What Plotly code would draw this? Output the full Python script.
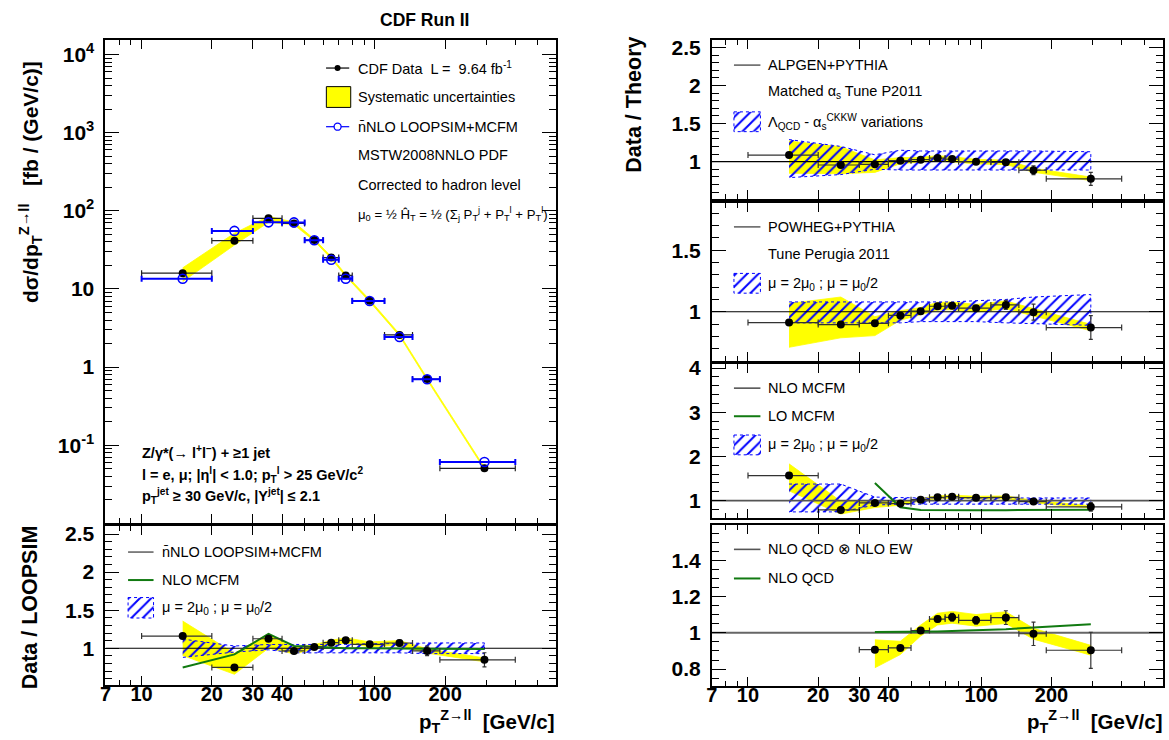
import math
import plotly.graph_objects as go

W, H = 1169, 740
FONT = "Liberation Sans, Arial, Helvetica, sans-serif"

# ---------------- data ----------------
bin_lo = [10, 20, 30, 40, 50, 60, 70, 80, 110, 145, 190]
bin_hi = [20, 30, 40, 50, 60, 70, 80, 110, 145, 190, 400]
pt_center = [15, 25, 35, 45, 55, 65, 75, 95, 127.5, 167.5, 295]

# main panel cross sections [fb/(GeV/c)]
data_xs = [15.9, 41.4, 80.0, 69.0, 42.2, 25.2, 14.9, 7.08, 2.58, 0.703, 0.0506]
loopsim_xs = [13.5, 55.3, 71.1, 71.0, 42.0, 23.6, 13.5, 7.0, 2.43, 0.70, 0.061]

# relative systematic and statistical uncertainties
sys_up = [0.17, 0.25, 0.06, 0.04, 0.03, 0.03, 0.03, 0.03, 0.03, 0.03, 0.03]
sys_dn = [0.22, 0.12, 0.11, 0.04, 0.03, 0.03, 0.03, 0.03, 0.03, 0.03, 0.03]
stat_rel = [0.005, 0.005, 0.005, 0.005, 0.008, 0.015, 0.02, 0.02, 0.035, 0.065, 0.11]

# Data / LOOPSIM
r_loopsim = [1.16, 0.748, 1.125, 0.965, 1.017, 1.073, 1.104, 1.052, 1.069, 0.965, 0.848]
nlo_over_loopsim = [0.748, 0.92, 1.19, 1.03, 1.02, 1.01, 1.0, 1.0, 1.0, 0.995, 0.99]
scale_lo_ll = [0.88, 0.95, 0.98, 0.94, 0.94, 0.94, 0.94, 0.94, 0.94, 0.93, 0.93]
scale_hi_ll = [1.12, 1.03, 1.05, 1.05, 1.05, 1.05, 1.05, 1.06, 1.06, 1.07, 1.07]

# Data / ALPGEN
r_alpgen = [1.086, 0.956, 0.965, 1.013, 1.026, 1.047, 1.034, 1.0, 0.991, 0.887, 0.774]
var_lo_alp = [0.79, 0.83, 0.90, 0.89, 0.89, 0.89, 0.89, 0.89, 0.89, 0.89, 0.89]
var_hi_alp = [1.29, 1.20, 1.09, 1.15, 1.14, 1.14, 1.14, 1.14, 1.14, 1.14, 1.13]

# Data / POWHEG
r_powheg = [0.912, 0.896, 0.906, 0.97, 1.005, 1.045, 1.048, 1.029, 1.056, 0.997, 0.872]
scale_lo_pow = [0.91, 0.91, 0.91, 0.91, 0.92, 0.92, 0.92, 0.92, 0.91, 0.90, 0.89]
scale_hi_pow = [1.08, 1.08, 1.08, 1.08, 1.08, 1.08, 1.08, 1.09, 1.10, 1.12, 1.14]

# Data / NLO MCFM
r_mcfm = [1.566, 0.79, 0.948, 0.933, 1.022, 1.074, 1.09, 1.067, 1.074, 0.978, 0.859]
scale_lo_mcfm = [0.745, 0.745, 0.90, 0.92, 0.92, 0.92, 0.92, 0.92, 0.92, 0.92, 0.92]
scale_hi_mcfm = [1.375, 1.375, 1.08, 1.06, 1.06, 1.06, 1.06, 1.06, 1.06, 1.06, 1.06]
lo_mcfm_curve = [None, None, 1.40, 0.85, 0.79, 0.785, 0.78, 0.78, 0.785, 0.79, 0.795]

# Data / NLO QCD x NLO EW
r_ew = [None, None, 0.907, 0.917, 1.013, 1.076, 1.086, 1.069, 1.084, 0.995, 0.904]
nlo_qcd_curve = [None, None, 1.005, 1.005, 1.006, 1.008, 1.01, 1.013, 1.02, 1.03, 1.048]

# axis ticks
x_tick_vals = [7, 10, 20, 30, 40, 100, 200]
x_tick_text = ["7", "10", "20", "30", "40", "100", "200"]
x_minor_vals = [8, 9, 50, 60, 70, 80, 90, 300, 400, 500]
X_MIN, X_MAX = 7, 600

# ---------------- layout helpers ----------------
XR = [math.log10(X_MIN), math.log10(X_MAX)]
PX_PER_DEC = 234.45
XW = PX_PER_DEC * (XR[1] - XR[0])


def xdom(left):
    return [left / W, (left + XW) / W]


def ydom(top, bottom):
    return [1 - bottom / H, 1 - top / H]


YELLOW = "#ffff00"
BLUE = "#0000ff"
GREEN = "#117a11"

fig = go.Figure()


def xcfg(dom, anchor, labels):
    return dict(type="log", range=XR, domain=dom, anchor=anchor, showline=True,
                linecolor="black", linewidth=2, mirror="ticks", ticks="inside",
                ticklen=9, tickwidth=1, tickcolor="black",
                tickmode="array", tickvals=x_tick_vals, ticktext=x_tick_text,
                showticklabels=labels, ticklabelstandoff=-10,
                tickfont=dict(family=FONT, size=20, color="black", weight="bold"),
                showgrid=False, zeroline=False,
                minor=dict(tickmode="array", tickvals=x_minor_vals, ticks="inside",
                           ticklen=5, tickcolor="black", showgrid=False))


def ycfg(dom, anchor, rng, tv, tt, mv, typ="linear"):
    return dict(type=typ, range=rng, domain=dom, anchor=anchor, showline=True,
                linecolor="black", linewidth=2, mirror="ticks", ticks="inside",
                ticklen=14, tickwidth=1, tickcolor="black",
                tickmode="array", tickvals=tv, ticktext=tt, ticklabelstandoff=5,
                tickfont=dict(family=FONT, size=21, color="black", weight="bold"),
                showgrid=False, zeroline=False,
                minor=dict(tickmode="array", tickvals=mv, ticks="inside",
                           ticklen=7, tickcolor="black", showgrid=False))


def frange(a, b, s):
    out = []
    v = a
    while v <= b + 1e-9:
        out.append(round(v, 4))
        v += s
    return out


LEFT_X = 100
RIGHT_X = 709.5

main_minor = [m * 10 ** k for k in range(-2, 4) for m in range(2, 10)]

fig.update_layout(
    width=W, height=H, margin=dict(l=0, r=0, t=0, b=0),
    paper_bgcolor="white", plot_bgcolor="rgba(0,0,0,0)", showlegend=False,
    xaxis=xcfg(xdom(LEFT_X), "y", False),
    yaxis=ycfg(ydom(32, 521), "x", [-2.0, 4.19], [0.1, 1, 10, 100, 1000, 10000],
               ["10<sup>-1</sup>", "1", "10", "10<sup>2</sup>", "10<sup>3</sup>", "10<sup>4</sup>"],
               main_minor, typ="log"),
    xaxis2=xcfg(xdom(LEFT_X), "y2", True),
    yaxis2=ycfg(ydom(524, 684.3), "x2", [0.519, 2.601], [1, 1.5, 2, 2.5],
                ["1", "1.5", "2", "2.5"], frange(0.6, 2.6, 0.1)),
    xaxis3=xcfg(xdom(RIGHT_X), "y3", False),
    yaxis3=ycfg(ydom(32.7, 192.7), "x3", [0.514, 2.594], [1, 1.5, 2, 2.5],
                ["1", "1.5", "2", "2.5"], frange(0.6, 2.5, 0.1)),
    xaxis4=xcfg(xdom(RIGHT_X), "y4", False),
    yaxis4=ycfg(ydom(196.7, 357), "x4", [0.599, 1.887], [1, 1.5],
                ["1", "1.5"], frange(0.6, 1.8, 0.1)),
    xaxis5=xcfg(xdom(RIGHT_X), "y5", False),
    yaxis5=ycfg(ydom(360, 515.7), "x5", [0.604, 4.089], [1, 2, 3, 4],
                ["1", "2", "3", "4"], frange(0.6, 4.0, 0.2)),
    xaxis6=xcfg(xdom(RIGHT_X), "y6", True),
    yaxis6=ycfg(ydom(522.7, 685), "x6", [0.709, 1.595], [0.8, 1, 1.2, 1.4],
                ["0.8", "1", "1.2", "1.4"], frange(0.75, 1.55, 0.05)),
    xaxis7=dict(domain=[0, 1], range=[0, W], visible=False, anchor="y7", fixedrange=True),
    yaxis7=dict(domain=[0, 1], range=[H, 0], visible=False, anchor="x7", fixedrange=True),
)

HATCH = dict(shape="/", fgcolor=BLUE, bgcolor="rgba(0,0,0,0)", size=8, solidity=0.25, fillmode="replace")


def band_trace(xs, lo, hi, xa, ya, hatch=False):
    if hatch:
        return go.Scatter(x=xs + xs[::-1], y=hi + lo[::-1], fill="toself",
                          fillcolor="rgba(0,0,0,0)", fillpattern=HATCH, mode="lines",
                          line=dict(color=BLUE, width=1, dash="dot"),
                          xaxis=xa, yaxis=ya, hoverinfo="skip")
    return go.Scatter(x=xs + xs[::-1], y=hi + lo[::-1], fill="toself",
                      fillcolor=YELLOW, mode="lines", line=dict(color=YELLOW, width=0.8),
                      xaxis=xa, yaxis=ya, hoverinfo="skip")


def sys_band(values, xa, ya):
    idx = [i for i, v in enumerate(values) if v is not None]
    xs = [pt_center[i] for i in idx]
    hi = [values[i] * (1 + sys_up[i]) for i in idx]
    lo = [values[i] * (1 - sys_dn[i]) for i in idx]
    fig.add_trace(band_trace(xs, lo, hi, xa, ya))


def points(values, xa, ya, ecolor="#333333", marker=None, ethick=1.2, yerr=True):
    idx = [i for i, v in enumerate(values) if v is not None]
    xs = [pt_center[i] for i in idx]
    ys = [values[i] for i in idx]
    exp = [bin_hi[i] - pt_center[i] for i in idx]
    exm = [pt_center[i] - bin_lo[i] for i in idx]
    ey = [values[i] * stat_rel[i] for i in idx]
    m = marker or dict(color="black", size=8, symbol="circle")
    fig.add_trace(go.Scatter(
        x=xs, y=ys, mode="markers", marker=m,
        error_x=dict(type="data", symmetric=False, array=exp, arrayminus=exm,
                     color=ecolor, thickness=ethick, width=3),
        error_y=dict(type="data", array=ey, color=ecolor, thickness=1.2, width=2, visible=yerr),
        xaxis=xa, yaxis=ya, hoverinfo="skip"))


def ref_line(xa, ya, color="black", width=1.2):
    fig.add_trace(go.Scatter(x=[X_MIN, X_MAX], y=[1, 1], mode="lines",
                             line=dict(color=color, width=width), xaxis=xa, yaxis=ya,
                             hoverinfo="skip"))


def curve(values, xa, ya, color=GREEN):
    fig.add_trace(go.Scatter(x=pt_center, y=values, mode="lines", connectgaps=False,
                             line=dict(color=color, width=2), xaxis=xa, yaxis=ya,
                             hoverinfo="skip"))


# ---------------- main panel ----------------
sys_band(data_xs, "x", "y")
points(data_xs, "x", "y", ecolor="#222222", yerr=False)
points(loopsim_xs, "x", "y", ecolor=BLUE, ethick=2, yerr=False,
       marker=dict(color=BLUE, size=9, symbol="circle-open", line=dict(color=BLUE, width=1.6)))

# ---------------- lower left: Data / LOOPSIM ----------------
sys_band(r_loopsim, "x2", "y2")
fig.add_trace(band_trace(pt_center, scale_lo_ll, scale_hi_ll, "x2", "y2", hatch=True))
ref_line("x2", "y2")
curve(nlo_over_loopsim, "x2", "y2")
points(r_loopsim, "x2", "y2")

# ---------------- right 1: ALPGEN ----------------
sys_band(r_alpgen, "x3", "y3")
fig.add_trace(band_trace(pt_center, var_lo_alp, var_hi_alp, "x3", "y3", hatch=True))
ref_line("x3", "y3")
points(r_alpgen, "x3", "y3")

# ---------------- right 2: POWHEG ----------------
sys_band(r_powheg, "x4", "y4")
fig.add_trace(band_trace(pt_center, scale_lo_pow, scale_hi_pow, "x4", "y4", hatch=True))
ref_line("x4", "y4")
points(r_powheg, "x4", "y4")

# ---------------- right 3: MCFM ----------------
sys_band(r_mcfm, "x5", "y5")
fig.add_trace(band_trace(pt_center, scale_lo_mcfm, scale_hi_mcfm, "x5", "y5", hatch=True))
ref_line("x5", "y5", color="#555555", width=1.6)
curve(lo_mcfm_curve, "x5", "y5")
points(r_mcfm, "x5", "y5")

# ---------------- right 4: EW ----------------
sys_band(r_ew, "x6", "y6")
ref_line("x6", "y6", color="#666666", width=2)
curve(nlo_qcd_curve, "x6", "y6")
points(r_ew, "x6", "y6")

# ---------------- legend glyphs (pixel overlay) ----------------


def g_line(x0, x1, y, color, width=1.2):
    fig.add_trace(go.Scatter(x=[x0, x1], y=[y, y], mode="lines", line=dict(color=color, width=width),
                             xaxis="x7", yaxis="y7", hoverinfo="skip"))


def g_marker(x, y, marker):
    fig.add_trace(go.Scatter(x=[x], y=[y], mode="markers", marker=marker,
                             xaxis="x7", yaxis="y7", hoverinfo="skip"))


def g_hatch(x0, x1, y0, y1):
    fig.add_trace(go.Scatter(x=[x0, x1, x1, x0, x0], y=[y0, y0, y1, y1, y0], fill="toself",
                             fillcolor="rgba(0,0,0,0)", fillpattern=HATCH, mode="lines",
                             line=dict(color=BLUE, width=1, dash="dot"),
                             xaxis="x7", yaxis="y7", hoverinfo="skip"))


def g_box(x0, x1, y0, y1):
    fig.add_trace(go.Scatter(x=[x0, x1, x1, x0, x0], y=[y0, y0, y1, y1, y0], fill="toself",
                             fillcolor=YELLOW, mode="lines", line=dict(color="black", width=1),
                             xaxis="x7", yaxis="y7", hoverinfo="skip"))


# main legend
g_line(321.7, 345, 60.7, "black")
g_marker(333.3, 60.7, dict(color="black", size=6))
g_box(322, 346.5, 79.5, 100.5)
g_line(321.7, 345, 120, BLUE)
g_marker(333.3, 120, dict(color="white", size=7, symbol="circle", line=dict(color=BLUE, width=1.3)))
# lower-left legend
g_line(122.7, 148.3, 550, "#333333")
g_line(122.7, 148.3, 578.3, GREEN, 2)
g_hatch(122.7, 148.3, 596, 616.7)
# right legends
g_line(731.7, 758.3, 57.7, "#333333")
g_hatch(731.7, 758.3, 105, 125)
g_line(731.7, 758.3, 221.3, "#333333")
g_hatch(731.7, 758.3, 268.3, 288.3)
g_line(731.7, 758.3, 384.3, "#555555", 1.6)
g_line(731.7, 758.3, 412.7, GREEN, 2)
g_hatch(731.7, 758.3, 431.7, 451.7)
g_line(731.7, 758.3, 547.3, "#555555", 1.6)
g_line(731.7, 758.3, 576.7, GREEN, 2)

# ---------------- texts ----------------


def ann(x, y, text, size=14.5, xanchor="left", bold=False, angle=0):
    fig.add_annotation(x=x / W, y=1 - y / H, xref="paper", yref="paper", text=text,
                       showarrow=False, xanchor=xanchor, yanchor="middle", textangle=angle,
                       borderpad=0,
                       font=dict(family=FONT, size=size, color="black",
                                 weight="bold" if bold else "normal"))


NB = "\u00a0"
ann(421, 12, "CDF Run II", size=17.5, xanchor="center", bold=True)

LX = 353
ann(LX, 60.7, f"CDF Data{NB} L ={NB} 9.64 fb<sup>-1</sup>")
ann(LX, 89.5, "Systematic uncertainties")
ann(LX, 120, "n\u0304NLO LOOPSIM+MCFM")
ann(LX, 148.3, "MSTW2008NNLO PDF")
ann(LX, 179.3, "Corrected to hadron level")
ann(LX, 208.3, "\u03bc<sub>0</sub> = \u00bd \u0124<sub>T</sub> = \u00bd (\u03a3<sub>j</sub> P<sub>T</sub><sup>j</sup> + P<sub>T</sub><sup>l</sup> + P<sub>T</sub><sup>l</sup>)",
    size=13.2)

BX = 135.5
ann(BX, 449.3, "Z/\u03b3*(\u2192 l<sup>+</sup>l<sup>\u2212</sup>) + \u22651 jet", bold=True)
ann(BX, 471.7, "l = e, \u03bc; |\u03b7<sup>l</sup>| &lt; 1.0; p<sub>T</sub><sup>l</sup> &gt; 25 GeV/c<sup>2</sup>", bold=True)
ann(BX, 493, "p<sub>T</sub><sup>jet</sup> \u2265 30 GeV/c, |Y<sup>jet</sup>| \u2264 2.1", bold=True)

ann(155.5, 550, "n\u0304NLO LOOPSIM+MCFM")
ann(155.5, 578.3, "NLO MCFM")
ann(155.5, 606.5, "\u03bc = 2\u03bc<sub>0</sub> ; \u03bc = \u03bc<sub>0</sub>/2")

RX = 764.5
ann(RX, 57.7, "ALPGEN+PYTHIA")
ann(RX, 85, "Matched \u03b1<sub>s</sub> Tune P2011")
ann(RX, 115, "\u039b<sub>QCD</sub> - \u03b1<sub>s</sub><sup>CKKW</sup> variations")
ann(RX, 221.3, "POWHEG+PYTHIA")
ann(RX, 248.3, "Tune Perugia 2011")
ann(RX, 278.8, "\u03bc = 2\u03bc<sub>0</sub> ; \u03bc = \u03bc<sub>0</sub>/2")
ann(RX, 384.3, "NLO MCFM")
ann(RX, 412.7, "LO MCFM")
ann(RX, 442.2, "\u03bc = 2\u03bc<sub>0</sub> ; \u03bc = \u03bc<sub>0</sub>/2")
ann(RX, 547.3, "NLO QCD \u2297 NLO EW")
ann(RX, 576.7, "NLO QCD")

ann(24, 176, f"d\u03c3/dp<sub>T</sub><sup>Z\u2192ll</sup>{NB}{NB} [fb / (GeV/c)]", size=21, xanchor="center", bold=True, angle=-90)
ann(25, 606, "Data / LOOPSIM", size=21.5, xanchor="center", bold=True, angle=-90)
ann(631, 98, "Data / Theory", size=21.5, xanchor="center", bold=True, angle=-90)
ann(553, 721, f"p<sub>T</sub><sup>Z\u2192ll</sup>{NB}{NB}[GeV/c]", size=20.5, xanchor="right", bold=True)
ann(1164, 721, f"p<sub>T</sub><sup>Z\u2192ll</sup>{NB}{NB}[GeV/c]", size=20.5, xanchor="right", bold=True)

fig.write_html("out.html")
